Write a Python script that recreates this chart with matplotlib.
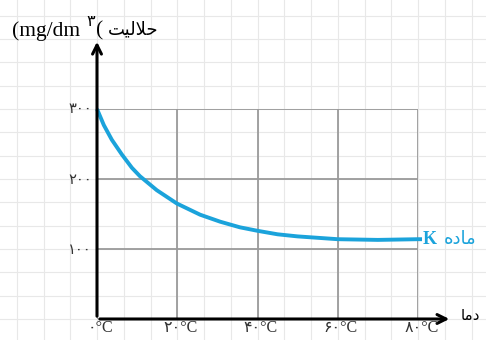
import matplotlib
matplotlib.use("Agg")
import matplotlib.pyplot as plt

# data (temperature in C, solubility in mg/dm3)
temp = [0, 1.7, 3.7, 6.2, 8.7, 10.7, 14.9, 19.9, 25.7, 30.7, 35.6, 40, 45, 50, 60, 70, 80, 81]
solub = [300, 277, 256, 235, 216, 204, 184, 165, 149, 139, 131, 126, 121, 118, 114, 113, 114, 114]
xticks = [0, 20, 40, 60, 80]
yticks = [100, 200, 300]

fa_digits = str.maketrans("0123456789", "۰۱۲۳۴۵۶۷۸۹")
def fa(n):
    return str(n).translate(fa_digits)

# persian words in visual order (presentation forms)
w_solub = "\uFE96\uFEF4\uFEDF\uFEFC\uFEA3"   # حلالیت
w_temp = "\uFE8E\uFEE3\uFEA9"               # دما
w_matter = "\uFEE9\uFEA9\uFE8E\uFEE3"       # ماده

W, H = 486, 340
fig = plt.figure(figsize=(W / 100, H / 100), dpi=100)

# notebook style background grid
bg = fig.add_axes([0, 0, 1, 1])
bg.set_xlim(0, W)
bg.set_ylim(H, 0)
bg.axis("off")
for k in range(-4, 16):
    bg.axvline(97 + k * 321 / 12, color="#e8e8e8", lw=0.8)
for k in range(-2, 15):
    bg.axhline(319 - k * 70 / 3, color="#e8e8e8", lw=0.8)

ax = fig.add_axes([97 / W, 21 / H, 321 / W, 210 / H])
ax.patch.set_alpha(0)
ax.set_xlim(0, 80)
ax.set_ylim(0, 300)
for s in ax.spines.values():
    s.set_visible(False)
ax.set_xticks(xticks)
ax.set_yticks(yticks)
ax.grid(True, color="#9a9a9a", lw=1.3)
ax.tick_params(length=0, labelbottom=False, labelleft=False)

ax.plot(temp, solub, color="#1ba3db", lw=2.8, clip_on=False,
        solid_capstyle="butt", solid_joinstyle="round", zorder=3)

# axes with arrows
ax.annotate("", xy=(88.5, 0), xytext=(0, 0),
            arrowprops=dict(arrowstyle="->", lw=2.2, color="black", mutation_scale=16),
            annotation_clip=False)
ax.annotate("", xy=(0, 400), xytext=(0, 0),
            arrowprops=dict(arrowstyle="->", lw=2.2, color="black", mutation_scale=16),
            annotation_clip=False)

fam = ["DejaVu Sans"]
serif = ["Liberation Serif", "DejaVu Sans"]
for t in xticks:
    ax.text(t + 0.8, -13, fa(t) + "°C", ha="center", va="center", fontsize=11.5,
            color="#333333", family=serif, clip_on=False)
for t in yticks:
    ax.text(-1.3, t, fa(t), ha="right", va="center", fontsize=10.5,
            color="#333333", family=fam, clip_on=False)

def ftext(x, y, s, **kw):
    fig.text(x / W, 1 - y / H, s, **kw)

ftext(470, 315, w_temp, ha="center", va="center", fontsize=11, family=fam)
ftext(423, 239, "K", ha="left", va="center", fontsize=13, fontweight="bold",
      color="#1ba3db", family=["Liberation Serif"])
ftext(460, 239, w_matter, ha="center", va="center", fontsize=13,
      color="#1ba3db", family=fam)

ftext(12, 31, "(mg/dm", ha="left", va="center", fontsize=15.5,
      family=["Liberation Serif"])
ftext(91, 21, fa(3), ha="center", va="center", fontsize=11.5, family=fam)
ftext(100, 31, "(", ha="center", va="center", fontsize=15.5,
      family=["Liberation Serif"])
ftext(108, 29, w_solub, ha="left", va="center", fontsize=13, family=fam)

fig.savefig("out.png", dpi=100)
